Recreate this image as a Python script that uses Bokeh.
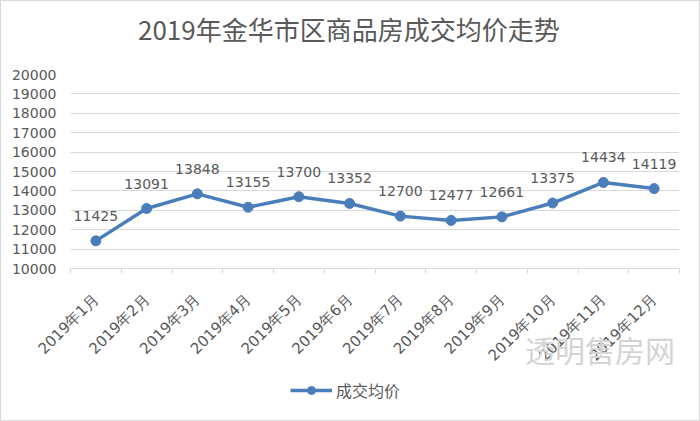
import math
from bokeh.plotting import figure
from bokeh.layouts import column
from bokeh.models import (Range1d, FixedTicker, ColumnDataSource, Legend, LegendItem, Label)
from bokeh.core.properties import value
from bokeh.embed import file_html
from bokeh.resources import INLINE

title_text = "2019年金华市区商品房成交均价走势"
months = ["2019年1月", "2019年2月", "2019年3月", "2019年4月", "2019年5月", "2019年6月",
          "2019年7月", "2019年8月", "2019年9月", "2019年10月", "2019年11月", "2019年12月"]
prices = [11425, 13091, 13848, 13155, 13700, 13352, 12700, 12477, 12661, 13375, 14434, 14119]
y_ticks = list(range(10000, 20001, 1000))
series_name = "成交均价"
watermark = "透明售房网"

TEXT = "#595959"
GRID = "#d9d9d9"
BLUE = "#4A7EBB"
NAN = float("nan")

xs = [i + 0.5 for i in range(len(months))]
src = ColumnDataSource(dict(x=xs, y=prices, label=[str(v) for v in prices]))

# title strip (its frame is aligned with the chart's frame by the column layout)
t = figure(width=698, height=60, output_backend="svg", toolbar_location=None,
           x_range=Range1d(0, 1), y_range=Range1d(0, 1), min_border=0,
           x_axis_location=None, y_axis_location=None)
t.outline_line_color = None
t.grid.visible = False
t.add_layout(Label(x=0.457, y=0.55, text=title_text, text_align="center", text_baseline="middle",
                   text_font="Noto Sans CJK SC", text_font_size="26px", text_color=TEXT))

# main chart
p = figure(width=698, height=312, output_backend="svg", toolbar_location=None,
           x_range=Range1d(0, len(months)), y_range=Range1d(10000, 20000),
           min_border_left=69, min_border_right=20, min_border_top=13, min_border_bottom=102)
p.outline_line_color = None
p.background_fill_color = "white"
p.border_fill_color = "white"

# x axis
xa = p.xaxis[0]
xa.ticker = FixedTicker(ticks=xs, minor_ticks=list(range(len(months) + 1)))
xa.major_label_overrides = {x: m for x, m in zip(xs, months)}
xa.major_label_orientation = math.pi / 4
xa.major_tick_line_color = None
xa.minor_tick_line_color = GRID
xa.minor_tick_in = 0
xa.minor_tick_out = 5
xa.axis_line_color = GRID
xa.major_label_text_font = "DejaVu Sans"
xa.major_label_text_font_size = "15px"
xa.major_label_text_color = TEXT
xa.major_label_standoff = 22
# faint source watermark, drawn as the axis' own label (right-hand part of a padded line)
xa.axis_label = "\u3000" * 15 + watermark
xa.axis_label_standoff = -47
xa.axis_label_text_font = "Noto Sans CJK SC"
xa.axis_label_text_font_size = "30px"
xa.axis_label_text_font_style = "normal"
xa.axis_label_text_color = "#d4d4d4"

# y axis
ya = p.yaxis[0]
ya.ticker = FixedTicker(ticks=y_ticks)
ya.axis_line_color = None
ya.major_tick_line_color = None
ya.minor_tick_line_color = None
ya.major_label_text_font = "DejaVu Sans"
ya.major_label_text_font_size = "14px"
ya.major_label_text_color = TEXT
ya.major_label_standoff = 8

p.xgrid.grid_line_color = None
p.ygrid.ticker = FixedTicker(ticks=y_ticks)
p.ygrid.grid_line_color = GRID

ln = p.line("x", "y", source=src, line_color=BLUE, line_width=3.5)
pts = p.scatter("x", "y", source=src, size=10, fill_color=BLUE, line_color=BLUE)
p.text("x", "y", text="label", source=src, text_align="center", text_baseline="bottom",
       y_offset=-20, text_font=value("DejaVu Sans"), text_font_size="14px", text_color=TEXT)

# legend strip below the chart
q = figure(width=698, height=47, output_backend="svg", toolbar_location=None,
           x_range=Range1d(0, 1), y_range=Range1d(0, 1), min_border=0,
           x_axis_location=None, y_axis_location=None)
q.outline_line_color = None
q.grid.visible = False
q.border_fill_color = "white"
kl = q.line(x=[NAN], y=[NAN], line_color=BLUE, line_width=3.5)
ks = q.scatter(x=[NAN], y=[NAN], size=10, fill_color=BLUE, line_color=BLUE)
legend = Legend(items=[LegendItem(label=series_name, renderers=[kl, ks])],
                location=(220, 18), orientation="horizontal",
                padding=0, margin=0, border_line_color=None, background_fill_alpha=0,
                glyph_width=42, glyph_height=20, label_text_font="Noto Sans CJK SC",
                label_text_font_size="16px", label_text_color=TEXT, label_standoff=4,
                label_text_align="left")
q.add_layout(legend, "center")

layout = column(t, p, q, spacing=0, styles={"border": "1px solid #d9d9d9"})

open("out.html", "w").write(file_html(layout, INLINE))
